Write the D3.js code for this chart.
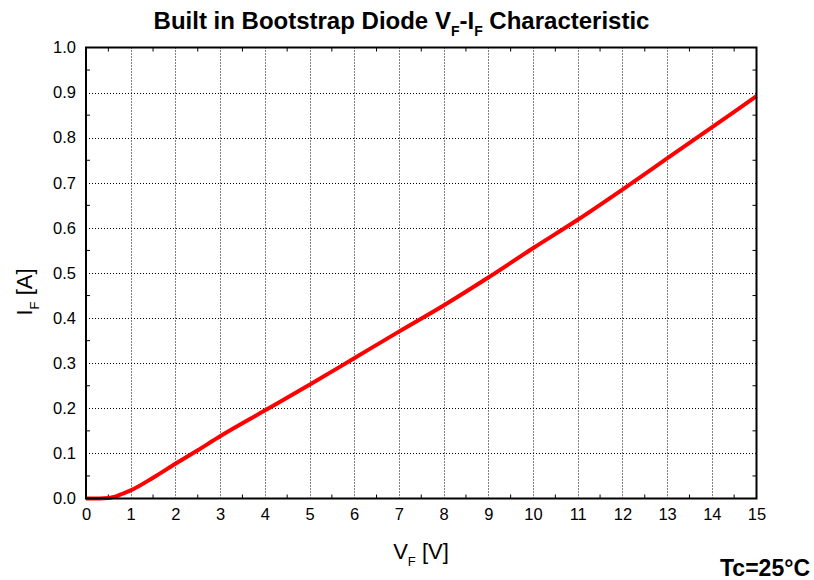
<!DOCTYPE html>
<html>
<head>
<meta charset="utf-8">
<script src="https://cdn.jsdelivr.net/npm/d3@7"></script>
<style>
  body { margin: 0; background: #fff; }
  text { font-family: "Liberation Sans", Arial, sans-serif; fill: #000; }
</style>
</head>
<body>
<svg id="chart" width="814" height="580"></svg>
<script>
// V_F [V]
const vf = [0, 0.3, 0.5, 0.6, 0.7, 0.8, 1.0, 1.5, 2, 2.5, 3, 4, 5, 6, 7, 8, 9, 10, 11, 12, 13, 14, 15];
// I_F [A]
const iF = [0, 0, 0.001, 0.003, 0.006, 0.01, 0.018, 0.046, 0.077, 0.107, 0.138, 0.195, 0.252, 0.311, 0.37, 0.428, 0.49, 0.555, 0.618, 0.685, 0.754, 0.823, 0.892];

const xTicks = d3.range(0, 16, 1);
const yTicks = d3.range(0, 1.01, 0.1);
const xMinor = d3.range(0.5, 15, 1);
const yMinor = d3.range(0.05, 1, 0.1);

const mLeft = 86, mRight = 756.5, mTop = 47.5, mBottom = 498.5;

const svg = d3.select("#chart");

const x = d3.scaleLinear().domain([0, 15]).range([mLeft, mRight]);
const y = d3.scaleLinear().domain([0, 1]).range([mBottom, mTop]);

// grid
const grid = svg.append("g")
  .attr("stroke", "#000")
  .attr("stroke-width", 1)
  .attr("stroke-dasharray", "1,2");
grid.selectAll("line.vx")
  .data(xTicks.slice(1, -1))
  .enter().append("line")
  .attr("x1", d => Math.round(x(d)) + 0.5).attr("x2", d => Math.round(x(d)) + 0.5)
  .attr("y1", mTop).attr("y2", mBottom);
grid.selectAll("line.hy")
  .data(yTicks.slice(1, -1))
  .enter().append("line")
  .attr("y1", d => Math.round(y(d)) + 0.5).attr("y2", d => Math.round(y(d)) + 0.5)
  .attr("x1", mLeft).attr("x2", mRight);

// minor ticks (inward) on all four sides
const tk = svg.append("g").attr("stroke", "#000").attr("stroke-width", 1);
xMinor.forEach(d => {
  tk.append("line").attr("x1", x(d)).attr("x2", x(d)).attr("y1", mBottom).attr("y2", mBottom - 4);
  tk.append("line").attr("x1", x(d)).attr("x2", x(d)).attr("y1", mTop).attr("y2", mTop + 4);
});
yMinor.forEach(d => {
  tk.append("line").attr("y1", y(d)).attr("y2", y(d)).attr("x1", mLeft).attr("x2", mLeft + 4);
  tk.append("line").attr("y1", y(d)).attr("y2", y(d)).attr("x1", mRight).attr("x2", mRight - 4);
});

// curve
const line = d3.line()
  .x((d, i) => x(vf[i]))
  .y(d => y(d))
  .curve(d3.curveMonotoneX);
svg.append("path")
  .datum(iF)
  .attr("d", line)
  .attr("fill", "none")
  .attr("stroke", "#ff0000")
  .attr("stroke-width", 4)
  .attr("stroke-linejoin", "round");

// frame
svg.append("rect")
  .attr("x", mLeft).attr("y", mTop)
  .attr("width", mRight - mLeft).attr("height", mBottom - mTop)
  .attr("fill", "none").attr("stroke", "#000").attr("stroke-width", 2);

// axes labels
const xAxis = d3.axisBottom(x).tickValues(xTicks).tickSize(0).tickPadding(10).tickFormat(d3.format("d"));
svg.append("g").attr("transform", `translate(0,${mBottom})`).call(xAxis)
  .call(g => g.select(".domain").remove())
  .selectAll("text").style("font-size", "16.5px").style("font-family", "Liberation Sans, Arial, sans-serif");

const yAxis = d3.axisLeft(y).tickValues(yTicks).tickSize(0).tickPadding(10).tickFormat(d3.format(".1f"));
svg.append("g").attr("transform", `translate(${mLeft},0)`).call(yAxis)
  .call(g => g.select(".domain").remove())
  .selectAll("text").style("font-size", "16.5px").style("font-family", "Liberation Sans, Arial, sans-serif");

// title
const title = svg.append("text")
  .attr("x", 401.5).attr("y", 28.5)
  .attr("text-anchor", "middle")
  .style("font-size", "24px").style("font-weight", "bold");
title.append("tspan").text("Built in Bootstrap Diode V");
title.append("tspan").text("F").attr("dy", 7).style("font-size", "14px");
title.append("tspan").text("-I").attr("dy", -7);
title.append("tspan").text("F").attr("dy", 7).style("font-size", "14px");
title.append("tspan").text(" Characteristic").attr("dy", -7);

// x label
const xl = svg.append("text")
  .attr("x", 421).attr("y", 559)
  .attr("text-anchor", "middle")
  .style("font-size", "22px");
xl.append("tspan").text("V");
xl.append("tspan").text("F").attr("dy", 7).style("font-size", "13px");
xl.append("tspan").text(" [V]").attr("dy", -7);

// y label
const yl = svg.append("text")
  .attr("transform", "translate(32,292) rotate(-90)")
  .attr("text-anchor", "middle")
  .style("font-size", "22px");
yl.append("tspan").text("I");
yl.append("tspan").text("F").attr("dy", 7).style("font-size", "13px");
yl.append("tspan").text(" [A]").attr("dy", -7);

// condition
svg.append("text")
  .attr("x", 810).attr("y", 576)
  .attr("text-anchor", "end")
  .style("font-size", "23px").style("font-weight", "bold")
  .text("Tc=25°C");
</script>
</body>
</html>
